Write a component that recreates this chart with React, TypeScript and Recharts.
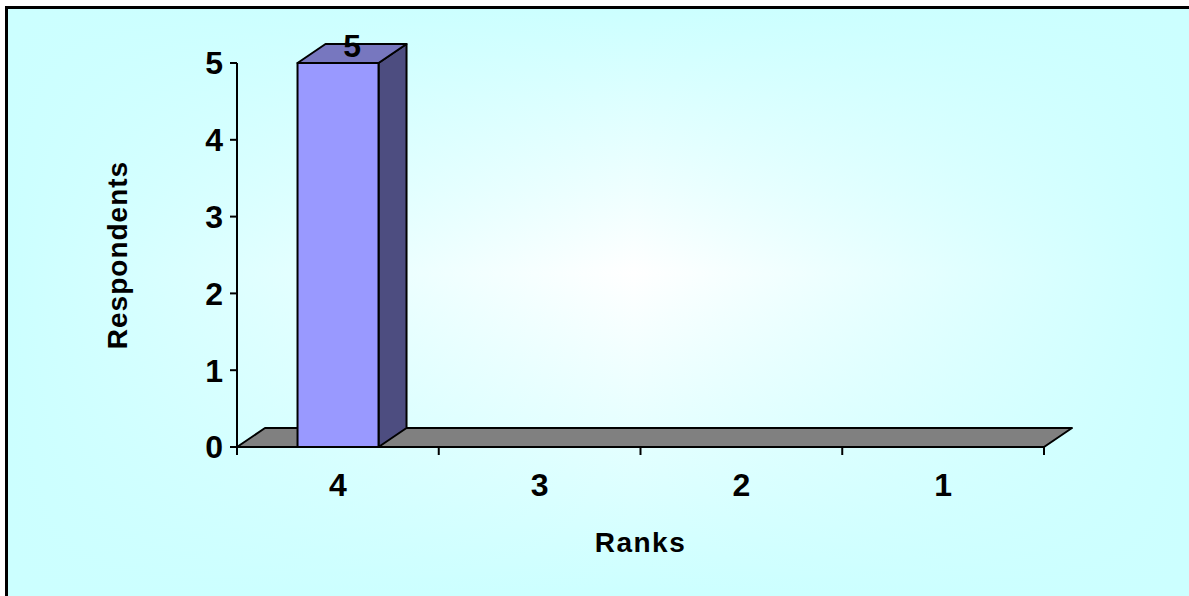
import { Bar, BarChart, ComposedChart, LabelList, Line, ReferenceLine, XAxis, YAxis } from 'recharts';

const ranks = ['4', '3', '2', '1'];
const respondents = [5, 0, 0, 0];
const yTicks = [0, 1, 2, 3, 4, 5];

const chartData = ranks.map((rank, i) => ({ rank, respondents: respondents[i] }));
// category edges, for the tick marks between the ranks and the floor
const edgeTicks = [...ranks.keys(), ranks.length];
const edgeData = edgeTicks.map((edge) => ({ edge, floor: 0 }));

const W = 1189;
const H = 596;
// 3d depth offset
const DX = 28;
const DY = -19;

const font = { fontFamily: '"Liberation Sans", Arial, sans-serif', fontWeight: 'bold' as const };

function Bar3D(props: any) {
  const { x, y, width, height } = props;
  if (!height || height <= 0) return null;
  const r = x + width;
  const b = y + height;
  return (
    <g stroke="#000" strokeWidth={2} strokeLinejoin="round">
      <polygon
        points={`${r},${y} ${r + DX},${y + DY} ${r + DX},${b + DY} ${r},${b}`}
        fill="#4d4d80"
      />
      <polygon
        points={`${x},${y} ${x + DX},${y + DY} ${r + DX},${y + DY} ${r},${y}`}
        fill="#7777bf"
      />
      <rect x={x} y={y} width={width} height={height} fill="#9999ff" />
    </g>
  );
}

function Floor(props: any) {
  const { x1, x2, y1 } = props;
  const l = Math.min(x1, x2);
  const r = Math.max(x1, x2);
  return (
    <polygon
      points={`${l},${y1} ${r},${y1} ${r + DX},${y1 + DY} ${l + DX},${y1 + DY}`}
      fill="#808080"
      stroke="#000"
      strokeWidth={2}
      strokeLinejoin="round"
    />
  );
}

function BarValue(props: any) {
  const { x, y, width, value } = props;
  if (!value) return null;
  return (
    <text x={x + width / 2 + DX / 2} y={y - 6} textAnchor="middle" fontSize={32} fill="#000" {...font}>
      {value}
    </text>
  );
}

export default function App() {
  return (
    <div style={{ position: 'absolute', left: 0, top: 0, width: W, height: H, overflow: 'hidden' }}>
      <div
        style={{
          position: 'absolute',
          left: 5,
          top: 6,
          width: W - 5,
          height: H - 6,
          boxSizing: 'border-box',
          borderLeft: '3px solid #000',
          borderTop: '3px solid #000',
          background:
            'linear-gradient(to right, #ccffff, rgba(204,255,255,0) 53%, #ccffff), linear-gradient(to bottom, #ccffff, rgba(204,255,255,0) 45%, #ccffff), #ffffff',
        }}
      />
      {/* back layer: floor and tick marks between categories */}
      <div style={{ position: 'absolute', left: 0, top: 0 }}>
        <ComposedChart
          width={W}
          height={H}
          data={edgeData}
          margin={{ top: 63, right: 145, left: 237, bottom: 119 }}
        >
          <XAxis
            type="number"
            dataKey="edge"
            domain={[0, ranks.length]}
            ticks={edgeTicks}
            interval={0}
            allowDataOverflow
            height={30}
            axisLine={false}
            tickSize={8}
            tickLine={{ stroke: '#000', strokeWidth: 2 }}
            tickFormatter={() => ''}
          />
          <YAxis hide domain={[0, 5]} allowDataOverflow />
          <Line dataKey="floor" stroke="none" dot={false} isAnimationActive={false} />
          <ReferenceLine y={0} shape={Floor} />
        </ComposedChart>
      </div>
      <div style={{ position: 'absolute', left: 0, top: 0 }}>
        <BarChart
          width={W}
          height={H}
          data={chartData}
          margin={{ top: 63, right: 145, left: 177, bottom: 109 }}
          barCategoryGap="30%"
        >
          <XAxis
            dataKey="rank"
            height={40}
            axisLine={{ stroke: '#000', strokeWidth: 2 }}
            tickLine={false}
            tickSize={8}
            tickMargin={18}
            tick={{ fill: '#000', fontSize: 32, ...font }}
            label={{
              content: ({ viewBox }: any) => (
                <text
                  x={viewBox.x + viewBox.width / 2}
                  y={viewBox.y + 105}
                  textAnchor="middle"
                  fontSize={28}
                  letterSpacing={1.5}
                  fill="#000"
                  {...font}
                >
                  Ranks
                </text>
              ),
            }}
          />
          <YAxis
            domain={[0, 5]}
            ticks={yTicks}
            width={60}
            axisLine={{ stroke: '#000', strokeWidth: 2 }}
            tickLine={{ stroke: '#000', strokeWidth: 2 }}
            tickSize={7}
            tickMargin={7}
            tick={{ fill: '#000', fontSize: 32, ...font }}
            label={{
              content: ({ viewBox }: any) => {
                const x = viewBox.x - 50;
                const y = viewBox.y + viewBox.height / 2;
                return (
                  <text
                    x={x}
                    y={y}
                    transform={`rotate(-90, ${x}, ${y})`}
                    textAnchor="middle"
                    fontSize={28}
                    letterSpacing={1}
                    fill="#000"
                    {...font}
                  >
                    Respondents
                  </text>
                );
              },
            }}
          />
          <Bar dataKey="respondents" shape={Bar3D} isAnimationActive={false}>
            <LabelList dataKey="respondents" content={BarValue} />
          </Bar>
        </BarChart>
      </div>
    </div>
  );
}
